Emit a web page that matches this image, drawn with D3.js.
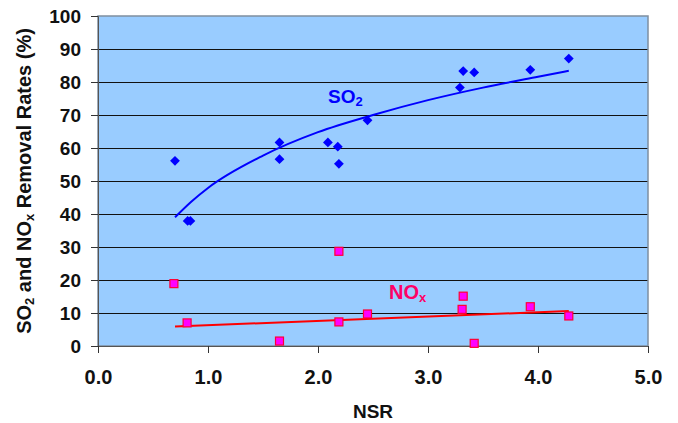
<!DOCTYPE html>
<html>
<head>
<meta charset="utf-8">
<script src="https://cdn.jsdelivr.net/npm/d3@7"></script>
<style>
  body { margin: 0; background: #fff; }
  text { font-family: "Liberation Sans", Arial, sans-serif; font-weight: bold; }
</style>
</head>
<body>
<div id="vis1"></div>
<script>
// data
const SO2_NSR = [0.70, 0.815, 0.84, 1.65, 1.65, 2.09, 2.18, 2.19, 2.45, 3.29, 3.32, 3.42, 3.93, 4.28];
const SO2_RATE = [56.1, 37.9, 37.9, 61.7, 56.6, 61.7, 60.4, 55.2, 68.4, 78.3, 83.3, 82.9, 83.7, 87.1];

const NOX_NSR = [0.69, 0.81, 1.65, 2.19, 2.19, 2.45, 3.31, 3.32, 3.42, 3.93, 4.28];
const NOX_RATE = [18.9, 7.0, 1.5, 28.7, 7.3, 9.7, 11.1, 15.1, 0.8, 11.9, 9.1];

// trend lines as they appear in the chart
const SO2_TREND_NSR = [0.70, 0.85, 1.0, 1.5, 2.0, 2.5, 3.0, 3.5, 4.0, 4.28];
const SO2_TREND_RATE = [39.0, 43.8, 47.9, 57.7, 64.8, 70.0, 74.5, 78.3, 81.6, 83.4];
const NOX_TREND_NSR = [0.70, 4.28];
const NOX_TREND_RATE = [5.9, 10.6];

const X_TICKS = [0, 1, 2, 3, 4, 5];
const Y_TICKS = [0, 10, 20, 30, 40, 50, 60, 70, 80, 90, 100];

const FRAME_WIDTH = 678;
const FRAME_HEIGHT = 423;
const MARGINS = {left: 98, right: 30, top: 16, bottom: 77};
const VIS_WIDTH = FRAME_WIDTH - MARGINS.left - MARGINS.right;
const VIS_HEIGHT = FRAME_HEIGHT - MARGINS.top - MARGINS.bottom;

const FRAME = d3.select("#vis1")
                .append("svg")
                  .attr("width", FRAME_WIDTH)
                  .attr("height", FRAME_HEIGHT);

const X_SCALE = d3.scaleLinear().domain([0, 5]).range([0, VIS_WIDTH]);
const Y_SCALE = d3.scaleLinear().domain([0, 100]).range([VIS_HEIGHT, 0]);

const G = FRAME.append("g")
               .attr("transform", "translate(" + MARGINS.left + "," + MARGINS.top + ")");

// plot background
G.append("rect")
   .attr("width", VIS_WIDTH)
   .attr("height", VIS_HEIGHT)
   .attr("fill", "#99ccff");

// gridlines
G.selectAll(".grid")
  .data(Y_TICKS.filter(d => d > 0 && d < 100))
  .enter()
  .append("line")
    .attr("x1", 0)
    .attr("x2", VIS_WIDTH)
    .attr("y1", d => Y_SCALE(d) + 0.5)
    .attr("y2", d => Y_SCALE(d) + 0.5)
    .attr("stroke", "#111")
    .attr("stroke-width", 1);

G.append("rect")
   .attr("width", VIS_WIDTH)
   .attr("height", VIS_HEIGHT)
   .attr("fill", "none")
   .attr("stroke", "#7f8fa0")
   .attr("stroke-width", 1.5);

// axes
const yAxis = G.append("g")
  .call(d3.axisLeft(Y_SCALE).tickValues(Y_TICKS).tickSize(7).tickPadding(10).tickFormat(d3.format("d")));
yAxis.select(".domain").attr("stroke", "#555");
yAxis.selectAll("line").attr("stroke", "#333");
yAxis.selectAll("text").attr("font-size", "19px").attr("fill", "#111")
     .attr("font-family", "Liberation Sans, Arial, sans-serif");

const xAxis = G.append("g")
  .attr("transform", "translate(0," + VIS_HEIGHT + ")")
  .call(d3.axisBottom(X_SCALE).tickValues(X_TICKS).tickSize(7).tickPadding(17).tickFormat(d3.format(".1f")));
xAxis.select(".domain").attr("stroke", "#555");
xAxis.selectAll("line").attr("stroke", "#333");
xAxis.selectAll("text").attr("font-size", "20px").attr("fill", "#111")
     .attr("font-family", "Liberation Sans, Arial, sans-serif");

// trend lines
const line = d3.line()
  .x(d => X_SCALE(d[0]))
  .y(d => Y_SCALE(d[1]))
  .curve(d3.curveMonotoneX);

G.append("path")
  .datum(SO2_TREND_NSR.map((x, i) => [x, SO2_TREND_RATE[i]]))
  .attr("d", line)
  .attr("fill", "none")
  .attr("stroke", "#0000ff")
  .attr("stroke-width", 2);

G.append("path")
  .datum(NOX_TREND_NSR.map((x, i) => [x, NOX_TREND_RATE[i]]))
  .attr("d", line)
  .attr("fill", "none")
  .attr("stroke", "#ff0000")
  .attr("stroke-width", 2);

// SO2 markers (diamonds)
G.selectAll(".so2")
  .data(SO2_NSR.map((x, i) => [x, SO2_RATE[i]]))
  .enter()
  .append("path")
    .attr("d", d3.symbol().type(d3.symbolSquare).size(48))
    .attr("transform", d => "translate(" + X_SCALE(d[0]) + "," + Y_SCALE(d[1]) + ") rotate(45)")
    .attr("fill", "#0000ff");

// NOx markers (squares)
G.selectAll(".nox")
  .data(NOX_NSR.map((x, i) => [x, NOX_RATE[i]]))
  .enter()
  .append("rect")
    .attr("x", d => X_SCALE(d[0]) - 4)
    .attr("y", d => Y_SCALE(d[1]) - 4)
    .attr("width", 8)
    .attr("height", 8)
    .attr("fill", "#ff00ff")
    .attr("stroke", "#ff0033")
    .attr("stroke-width", 1.2);

// series labels
const so2Label = FRAME.append("text")
  .attr("x", 328)
  .attr("y", 103)
  .attr("font-size", "19px")
  .attr("fill", "#0000ff");
so2Label.append("tspan").text("SO");
so2Label.append("tspan").attr("font-size", "13px").attr("dy", 3).text("2");

const noxLabel = FRAME.append("text")
  .attr("x", 389)
  .attr("y", 299)
  .attr("font-size", "20px")
  .attr("fill", "#ff0066");
noxLabel.append("tspan").text("NO");
noxLabel.append("tspan").attr("font-size", "13px").attr("dy", 3).text("x");

// axis titles
FRAME.append("text")
  .attr("x", MARGINS.left + VIS_WIDTH / 2)
  .attr("y", 418)
  .attr("text-anchor", "middle")
  .attr("font-size", "19px")
  .attr("fill", "#111")
  .text("NSR");

const yTitle = FRAME.append("text")
  .attr("transform", "translate(31," + 181 + ") rotate(-90)")
  .attr("text-anchor", "middle")
  .attr("font-size", "20px")
  .attr("fill", "#111");
yTitle.append("tspan").text("SO");
yTitle.append("tspan").attr("font-size", "13px").attr("dy", 3).text("2");
yTitle.append("tspan").attr("dy", -3).text(" and NO");
yTitle.append("tspan").attr("font-size", "13px").attr("dy", 3).text("x");
yTitle.append("tspan").attr("dy", -3).text(" Removal Rates (%)");
</script>
</body>
</html>
